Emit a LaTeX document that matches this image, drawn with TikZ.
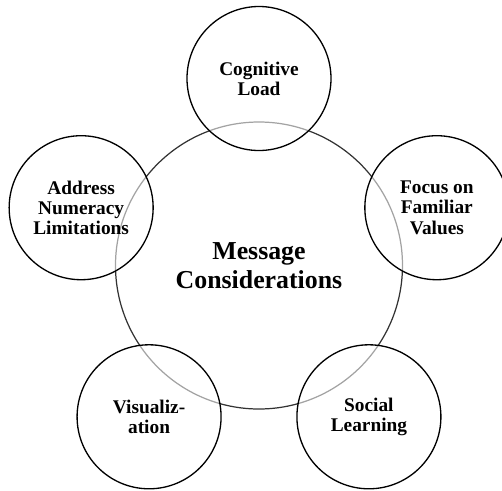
\documentclass[tikz,border=0pt]{standalone}
\usepackage{fontspec}
\setmainfont{Liberation Serif}

\tikzset{
	hub/.style={circle, draw=black!80, line width=0.7pt, minimum size=5.74cm,
		inner sep=0pt, align=center, font=\bfseries\fontsize{14.7}{16.4}\selectfont},
	topic/.style={circle, draw=black, line width=0.75pt, fill=white,
		fill opacity=0.55, text opacity=1, minimum size=2.88cm, inner sep=0pt,
		align=center, font=\bfseries\fontsize{11}{11.5}\selectfont}
}

\begin{document}
\begin{tikzpicture}
	\useasboundingbox (-5.18,-4.49) rectangle (4.86,5.31);

	% centre circle
	\node[hub] (msg) at (0,0) {Message\\Considerations};

	% the five topics round it
	\node[topic] (load) at (90:3.74) {Cognitive\\Load};
	\node[topic] (values) at (18:3.74) {Focus on\\Familiar\\Values};
	\node[topic] (social) at (-54:3.74) {Social\\Learning};
	\node[topic] (visual) at (-126:3.74) {Visualiz-\\ation};
	\node[topic] (numeracy) at (162:3.74) {Address\\Numeracy\\Limitations};
\end{tikzpicture}
\end{document}
